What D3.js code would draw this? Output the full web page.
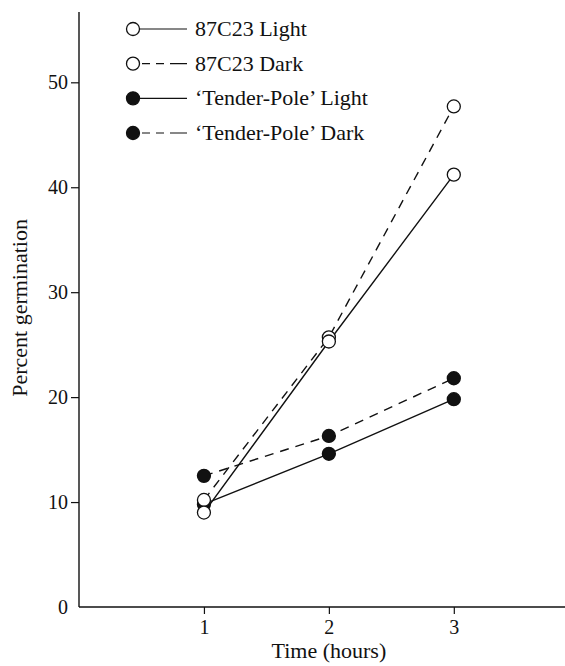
<!DOCTYPE html>
<html>
<head>
<meta charset="utf-8">
<script src="https://cdn.jsdelivr.net/npm/d3@7/dist/d3.min.js"></script>
<style>
  html, body { margin: 0; padding: 0; background: #fff; }
  svg { display: block; }
  text { font-family: "Liberation Serif", "Times New Roman", serif; fill: #111; }
</style>
</head>
<body>
<svg id="chart" width="565" height="666"></svg>
<script>
// ---- data ----
const times = [1, 2, 3];
const c87Light = [9.0, 25.3, 41.2];
const c87Dark = [10.2, 25.7, 47.7];
const tpLight = [9.8, 14.6, 19.8];
const tpDark = [12.5, 16.3, 21.8];
const yTicks = [0, 10, 20, 30, 40, 50];
const xTicks = [1, 2, 3];
const seriesNames = ["87C23 Light", "87C23 Dark", "\u2018Tender-Pole\u2019 Light", "\u2018Tender-Pole\u2019 Dark"];

const series = [
  { name: seriesNames[3], values: tpDark, filled: true, dashed: true },
  { name: seriesNames[2], values: tpLight, filled: true, dashed: false },
  { name: seriesNames[1], values: c87Dark, filled: false, dashed: true },
  { name: seriesNames[0], values: c87Light, filled: false, dashed: false }
];

const svg = d3.select("#chart");
const ink = "#111";

const x = d3.scaleLinear().domain([0, 3.89]).range([79, 565]);
const y = d3.scaleLinear().domain([0, 56.7]).range([607, 12]);

// axes
const gx = svg.append("g").attr("transform", `translate(0,${y(0)})`)
  .call(d3.axisBottom(x).tickValues(xTicks).tickSize(7).tickPadding(6).tickFormat(d3.format("d")));
gx.select(".domain").attr("d", `M${x(0)},0H${x(3.89)}`).attr("stroke", ink).attr("stroke-width", 1.4);
gx.selectAll(".tick line").attr("stroke", ink).attr("stroke-width", 1.2);
gx.selectAll(".tick text").style("font-size", "20px").style("font-family", "Liberation Serif").attr("fill", ink);

const gy = svg.append("g").attr("transform", `translate(${x(0)},0)`)
  .call(d3.axisLeft(y).tickValues(yTicks).tickSize(8).tickPadding(3).tickFormat(d3.format("d")));
gy.select(".domain").attr("d", `M0,${y(56.7)}V${y(0)}`).attr("stroke", ink).attr("stroke-width", 1.4);
gy.selectAll(".tick line").attr("stroke", ink).attr("stroke-width", 1.2)
  .attr("opacity", d => d === 0 ? 0 : 1);
gy.selectAll(".tick text").style("font-size", "20px").style("font-family", "Liberation Serif").attr("fill", ink);

// axis titles
svg.append("text")
  .attr("x", x(2)).attr("y", 658)
  .attr("text-anchor", "middle")
  .style("font-size", "22px")
  .text("Time (hours)");

svg.append("text")
  .attr("transform", `translate(27,${y(28.5)}) rotate(-90)`)
  .attr("text-anchor", "middle")
  .style("font-size", "22px")
  .text("Percent germination");

// lines
const line = d3.line().x((d, i) => x(times[i])).y(d => y(d));
series.forEach(s => {
  svg.append("path")
    .attr("d", line(s.values))
    .attr("fill", "none")
    .attr("stroke", ink)
    .attr("stroke-width", 1.4)
    .attr("stroke-dasharray", s.dashed ? "9,7" : null);
});

// markers
series.forEach(s => {
  svg.append("g").selectAll("circle")
    .data(s.values)
    .join("circle")
    .attr("cx", (d, i) => x(times[i]))
    .attr("cy", d => y(d))
    .attr("r", 6.5)
    .attr("fill", s.filled ? ink : "#fff")
    .attr("stroke", ink)
    .attr("stroke-width", 1.3);
});

// legend
const legendRows = [
  { name: seriesNames[0], filled: false, dashed: false },
  { name: seriesNames[1], filled: false, dashed: true },
  { name: seriesNames[2], filled: true, dashed: false },
  { name: seriesNames[3], filled: true, dashed: true }
];
const legY = d3.scalePoint().domain(legendRows.map(d => d.name)).range([29, 133]);
const lg = svg.append("g");
legendRows.forEach(r => {
  const yy = legY(r.name);
  lg.append("line")
    .attr("x1", 133).attr("x2", 187).attr("y1", yy).attr("y2", yy)
    .attr("stroke", ink).attr("stroke-width", 1.2)
    .attr("stroke-dasharray", r.dashed ? "0,9,8,6,8,6,8" : null);
  lg.append("circle")
    .attr("cx", 133).attr("cy", yy).attr("r", 6.5)
    .attr("fill", r.filled ? ink : "#fff")
    .attr("stroke", ink).attr("stroke-width", 1.3);
  lg.append("text")
    .attr("x", 195).attr("y", yy + 7)
    .style("font-size", "22px")
    .text(r.name);
});
</script>
</body>
</html>
